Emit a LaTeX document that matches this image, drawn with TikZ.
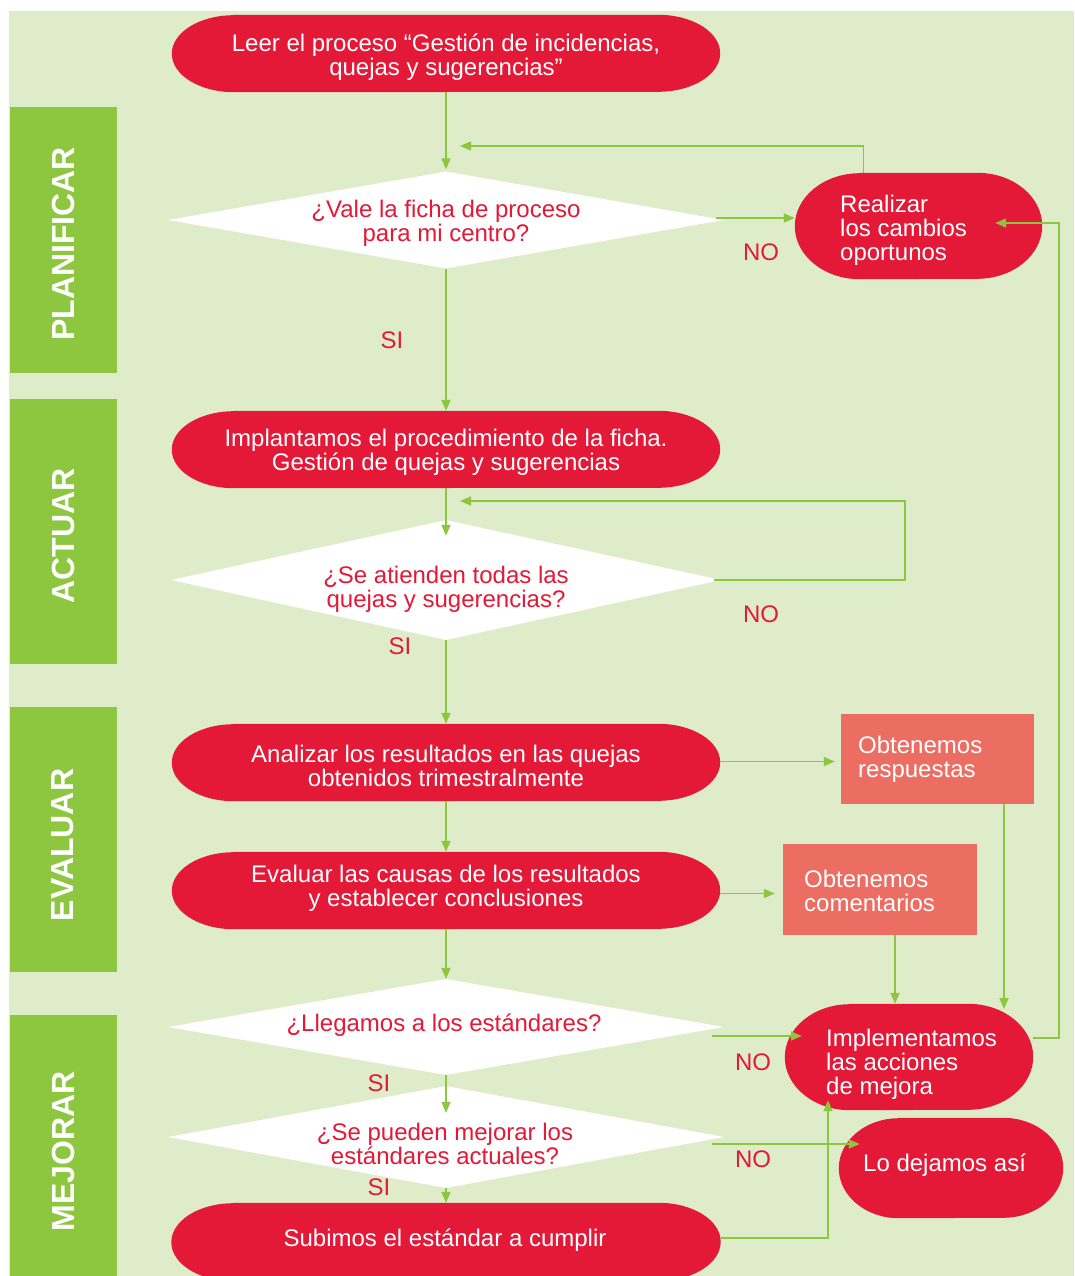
\documentclass[tikz,border=0pt]{standalone}
\usepackage{fontspec}
\setmainfont{Liberation Sans}
\usetikzlibrary{shapes.geometric,arrows.meta}
\definecolor{bgc}{HTML}{DFECCA}
\definecolor{grn}{HTML}{8DC63F}
\definecolor{redc}{HTML}{E41937}
\definecolor{salm}{HTML}{EC6E63}
\pgfdeclarelayer{background}
\pgfsetlayers{background,main}
\newcommand\pillfill[3]{%
  \fill[redc] ([xshift=#2pt]#1.north west) -- ([xshift=-#2pt]#1.north east)
    arc[start angle=90, end angle=-90, x radius=#2pt, y radius=#3pt]
    -- ([xshift=#2pt]#1.south west)
    arc[start angle=270, end angle=90, x radius=#2pt, y radius=#3pt] -- cycle;}
\begin{document}
\begin{tikzpicture}[x=1pt,y=-1pt,
  every node/.style={font=\fontsize{24}{24}\selectfont, inner sep=0pt},
  pill/.style={rectangle, text=white, align=center},
  dia/.style={diamond, fill=white, inner sep=0pt},
  qtxt/.style={text=redc, align=center},
  wtxt/.style={text=white, align=left, anchor=west},
  ptxt/.style={text=white, align=center},
  lab/.style={text=redc},
  side/.style={text=white, font=\fontsize{32}{32}\selectfont\bfseries, rotate=90},
  obox/.style={rectangle, fill=salm},
  arr/.style={draw=grn, line width=1.5pt, -{Triangle[length=11pt,width=9pt]}}]
\useasboundingbox (0,0) rectangle (1074,1276);
\begin{pgfonlayer}{background}
\fill[bgc] (9,11) rectangle (1074,1276);
\end{pgfonlayer}
% phase bars
\fill[grn] (10,107) rectangle (117,373);
\fill[grn] (10,399) rectangle (117,664);
\fill[grn] (10,707) rectangle (117,972);
\fill[grn] (10,1015) rectangle (117,1276);
\node[side] (s1) at (63,244) {PLANIFICAR};
\node[side] (s2) at (63,536) {ACTUAR};
\node[side] (s3) at (63,845) {EVALUAR};
\node[side] (s4) at (63,1151) {MEJORAR};

% process pills
\node[pill, minimum width=548, minimum height=77] (leer) at (446,53.5) {};
\node[ptxt] (leert) at (446,57) {Leer el proceso “Gestión de incidencias,\\quejas y sugerencias”};
\node[pill, minimum width=247, minimum height=106] (realizar) at (918.5,226) {};
\node[wtxt] (realizart) at (840,230) {Realizar\\los cambios\\oportunos};
\node[pill, minimum width=548, minimum height=77] (implant) at (446,449.5) {};
\node[ptxt] (implantt) at (446,452) {Implantamos el procedimiento de la ficha.\\Gestión de quejas y sugerencias};
\node[pill, minimum width=548, minimum height=77] (analizar) at (446,762.5) {};
\node[ptxt] (analizart) at (446,766) {Analizar los resultados en las quejas\\obtenidos trimestralmente};
\node[pill, minimum width=548, minimum height=77] (evaluar) at (446,890.5) {};
\node[ptxt] (evaluart) at (446,888.5) {Evaluar las causas de los resultados\\y establecer conclusiones};
\node[pill, minimum width=248, minimum height=106] (mejora) at (909,1057) {};
\node[wtxt] (mejorat) at (826,1064) {Implementamos\\las acciones\\de mejora};
\node[pill, minimum width=224, minimum height=100] (lode) at (951,1168) {};
\node[wtxt] (lodet) at (863,1165) {Lo dejamos así};
\node[pill, minimum width=549, minimum height=78] (subimos) at (446,1242) {};
\node[ptxt] (subimost) at (445,1240) {Subimos el estándar a cumplir};

\begin{pgfonlayer}{background}
\pillfill{leer}{62}{38.5}
\pillfill{realizar}{65}{53}
\pillfill{implant}{62}{38.5}
\pillfill{analizar}{62}{38.5}
\pillfill{evaluar}{62}{38.5}
\pillfill{mejora}{65}{53}
\pillfill{lode}{60}{50}
\pillfill{subimos}{62}{39}
\end{pgfonlayer}

% result boxes
\node[obox, minimum width=193, minimum height=90] (resp) at (937.5,759) {};
\node[wtxt] (respt) at (858,759) {Obtenemos\\respuestas};
\node[obox, minimum width=194, minimum height=91] (coment) at (880,889.5) {};
\node[wtxt] (comentt) at (804,891) {Obtenemos\\comentarios};

% decisions
\node[dia, minimum width=556, minimum height=97] (d1) at (446,220) {};
\node[qtxt] (d1t) at (446,223) {¿Vale la ficha de proceso\\para mi centro?};
\node[dia, minimum width=550, minimum height=120] (d2) at (446,580) {};
\node[qtxt] (d2t) at (446,589) {¿Se atienden todas las\\quejas y sugerencias?};
\node[dia, minimum width=556, minimum height=96] (d3) at (446,1027) {};
\node[qtxt] (d3t) at (444,1025) {¿Llegamos a los estándares?};
\node[dia, minimum width=556, minimum height=102] (d4) at (446,1137) {};
\node[qtxt] (d4t) at (445,1144) {¿Se pueden mejorar los\\estándares actuales?};

% SI / NO labels
\node[lab] (si1) at (392,340) {SI};
\node[lab] (no1) at (761,252) {NO};
\node[lab] (si2) at (400,646) {SI};
\node[lab] (no2) at (761,614) {NO};
\node[lab] (si3) at (379,1083) {SI};
\node[lab] (no3) at (753,1062) {NO};
\node[lab] (si4) at (379,1187) {SI};
\node[lab] (no4) at (753,1159) {NO};

% helper coordinates
\coordinate (j1) at (460,146);
\coordinate (k2) at (905,501);
\coordinate (j2) at (460,501);
\coordinate (k4) at (1059,223);
\coordinate (rin) at ([shift={(-47,-3)}]realizar.east);
\coordinate (cs) at ([xshift=15pt]coment.south);
\coordinate (rs) at ([xshift=66.5pt]resp.south);
\coordinate (mtop) at (1004,1009);
\coordinate (mejB) at ([shift={(-81,-10)}]mejora.south);

% connectors
\draw[arr] (leer.south) -- ([yshift=2pt]d1.north);
\draw[arr] ([shift={(-8,-2)}]d1.east) -- ([yshift=8pt]realizar.west);
\draw[arr] ([xshift=-55pt]realizar.north) |- (j1);
\draw[arr] (d1.south) -- (implant.north);
\draw[arr] (implant.south) -- ([yshift=-16pt]d2.north);
\draw[arr] ([xshift=-7pt]d2.east) -| (k2) -- (j2);
\draw[arr] (d2.south) -- (analizar.north);
\draw[arr, shorten >=6pt] ([yshift=1pt]analizar.east) -- ([yshift=1pt]analizar.east -| resp.west);
\draw[arr] (analizar.south) -- (evaluar.north);
\draw[arr, shorten >=8pt] ([yshift=-3pt]evaluar.east) -- ([yshift=-3pt]evaluar.east -| coment.west);
\draw[arr] (cs) -- (cs |- mejora.north);
\draw[arr] (rs) -- (mtop);
\draw[arr] (evaluar.south) -- (d3.north);
\draw[arr] ([shift={(-12,9)}]d3.east) -- ([shift={(17,-21)}]mejora.west);
\draw[arr] ([yshift=19pt]mejora.east) -| (k4) -- (rin);
\draw[arr] (d3.south) -- ([yshift=-27pt]d4.north);
\draw[arr] ([shift={(-12,7)}]d4.east) -- ([shift={(21,-24)}]lode.west);
\draw[arr] (d4.south) -- (subimos.north);
\draw[arr] ([yshift=4pt]subimos.east) -| (mejB);
\end{tikzpicture}
\end{document}
